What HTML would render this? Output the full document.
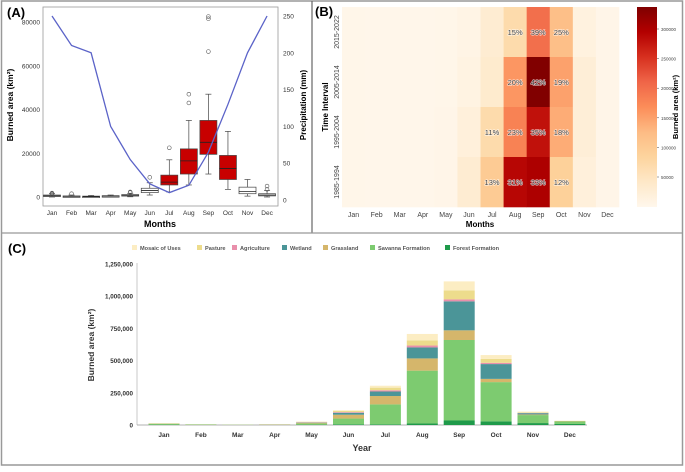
<!DOCTYPE html>
<html><head><meta charset="utf-8"><style>
body{margin:0;background:#fff;font-family:"Liberation Sans",sans-serif}
svg text{font-family:"Liberation Sans",sans-serif}
</style></head><body>
<svg id="s" width="685" height="467" viewBox="0 0 685 467">
<rect x="1.5" y="1" width="681" height="464" fill="none" stroke="#999" stroke-width="1.5"/>
<line x1="312" y1="1" x2="312" y2="233" stroke="#666" stroke-width="1.2"/>
<line x1="1.5" y1="233" x2="683" y2="233" stroke="#999" stroke-width="1.2"/>
<text x="7" y="17" font-size="13" font-weight="bold">(A)</text>
<text x="315" y="16" font-size="13" font-weight="bold">(B)</text>
<text x="8" y="253" font-size="13" font-weight="bold">(C)</text>
<g id="A"></g><g id="B"></g><g id="C"></g>
</svg>
<script>
const months=["Jan","Feb","Mar","Apr","May","Jun","Jul","Aug","Sep","Oct","Nov","Dec"];
// Panel A data
const precip=[250,210,200,100,55,22,10,20,65,130,200,250];
const q1=[200,100,100,200,500,2000,5500,10500,19500,8000,1500,500];
const med=[500,300,200,400,800,3000,6800,16500,25000,13000,2500,900];
const q3=[900,500,400,600,1100,4000,10000,22000,35000,19000,4500,1500];
const wlo=[0,0,0,0,100,900,2300,5500,10500,3500,400,0];
const whi=[1500,900,700,900,1700,6500,17000,35000,47000,30000,8000,3000];
const outliers=[[1200,1600,1800],[1500],[],[],[2000,2300],[9000],[22500],[43000,47000],[66500,81500,82500],[],[],[3500,5000]];
const redBox=[0,0,0,0,0,0,1,1,1,1,0,0];
const aLeftTicks=[0,20000,40000,60000,80000];
const aRightTicks=[0,50,100,150,200,250];
// Panel B data
const intervals=["2015-2022","2005-2014","1995-2004","1985-1994"];
const heat=[
[3000,2000,2000,2000,3000,8000,30000,70000,200000,120000,15000,5000],
[3000,2000,2000,2000,4000,12000,35000,160000,335000,150000,25000,5000],
[3000,2000,2000,2000,5000,20000,70000,180000,280000,140000,25000,5000],
[3000,2000,2000,2000,5000,30000,100000,290000,300000,90000,20000,5000]];
const pct=[
["","","","","","","","15%","39%","25%","",""],
["","","","","","","","20%","42%","19%","",""],
["","","","","","","11%","23%","35%","18%","",""],
["","","","","","","13%","31%","33%","12%","",""]];
const cbTicks=[50000,100000,150000,200000,250000,300000];
// Panel C data
const classes=["Forest Formation","Savanna Formation","Grassland","Wetland","Agriculture","Pasture","Mosaic of Uses"];
const forest=[2000,1000,500,500,2000,5000,5000,12000,35000,28000,15000,8000];
const savanna=[8000,3000,1500,2000,10000,45000,155000,410000,625000,305000,62000,20000];
const grassland=[2000,1000,500,1000,5000,30000,65000,95000,75000,25000,5000,3000];
const wetland=[0,0,0,0,2000,15000,35000,85000,225000,115000,10000,0];
const agriculture=[0,0,0,1000,3000,5000,10000,15000,15000,10000,2000,0];
const pasture=[1000,500,500,1000,3000,10000,20000,40000,70000,30000,5000,1000];
const mosaic=[1000,500,500,1000,2000,5000,15000,50000,70000,30000,5000,1000];
const cTicks=[0,250000,500000,750000,1000000,1250000];

const NS="http://www.w3.org/2000/svg";
function el(p,t,a){const e=document.createElementNS(NS,t);for(const k in a)e.setAttribute(k,a[k]);p.appendChild(e);return e;}
function tx(p,x,y,s,a){const e=el(p,"text",Object.assign({x:x,y:y},a));e.textContent=s;return e;}

// ---------- Panel A ----------
const A=document.getElementById("A");
const axL=43,axR=278,axT=7,axB=206;
const yA=v=>197-v*(175/80000);
const yP=v=>200-v*(184/250);
const xA=i=>52+i*19.55;
const fr=el(A,"rect",{x:axL,y:axT,width:axR-axL,height:axB-axT,fill:"none",stroke:"#999","stroke-width":0.8});


aLeftTicks.forEach(v=>{const t=tx(A,40,yA(v)+2.5,String(v),{"font-size":6.5,"text-anchor":"end",fill:"#333"});

});
aRightTicks.forEach(v=>{const t=tx(A,283,yP(v)+2.5,String(v),{"font-size":6.5,fill:"#333"});

});
months.forEach((m,i)=>{const t=tx(A,xA(i),215,m,{"font-size":6.5,"text-anchor":"middle",fill:"#333"});


const w=6,x=xA(i);
const g=el(A,"g",{});


el(g,"line",{x1:x,x2:x,y1:yA(whi[i]),y2:yA(q3[i]),stroke:"#444","stroke-width":0.7});
el(g,"line",{x1:x,x2:x,y1:yA(q1[i]),y2:yA(wlo[i]),stroke:"#444","stroke-width":0.7});
el(g,"line",{x1:x-w/2,x2:x+w/2,y1:yA(whi[i]),y2:yA(whi[i]),stroke:"#444","stroke-width":0.7});
el(g,"line",{x1:x-w/2,x2:x+w/2,y1:yA(wlo[i]),y2:yA(wlo[i]),stroke:"#444","stroke-width":0.7});
el(g,"rect",{x:x-8.5,y:yA(q3[i]),width:17,height:Math.max(1.5,yA(q1[i])-yA(q3[i])),fill:redBox[i]?"#c80000":"#fff",stroke:"#444","stroke-width":0.7});
el(g,"line",{x1:x-8.5,x2:x+8.5,y1:yA(med[i]),y2:yA(med[i]),stroke:"#222","stroke-width":0.8});
outliers[i].forEach(o=>el(g,"circle",{cx:x,cy:yA(o),r:1.9,fill:"none",stroke:"#555","stroke-width":0.6}));
});
const pl=el(A,"polyline",{points:precip.map((v,i)=>xA(i)+","+yP(v)).join(" "),fill:"none",stroke:"#5b63c8","stroke-width":1.3});


let t;
t=tx(A,160,227,"Months",{"font-size":9,"font-weight":"bold","text-anchor":"middle"});

t=tx(A,13,105,"Burned area (km²)",{"font-size":8.5,"font-weight":"bold","text-anchor":"middle",transform:"rotate(-90 13 105)"});

t=tx(A,306,105,"Precipitation (mm)",{"font-size":8,"font-weight":"bold","text-anchor":"middle",transform:"rotate(-90 306 105)"});


// ---------- Panel B ----------
const B=document.getElementById("B");
const stops=["#fff7ec","#fee8c8","#fdd49e","#fdbb84","#fc8d59","#ef6548","#d7301f","#b30000","#7f0000"];
function hx(h){return [1,3,5].map(k=>parseInt(h.substr(k,2),16));}
const VMAX=337000;
function cmap(v){let f=Math.max(0,Math.min(1,v/VMAX))*(stops.length-1);const i=Math.min(stops.length-2,Math.floor(f));const r=f-i;const a=hx(stops[i]),b=hx(stops[i+1]);return "rgb("+a.map((c,k)=>Math.round(c+(b[k]-c)*r)).join(",")+")";}
const bx0=342,bx1=619,by0=7,by1=207;
const cw=(bx1-bx0)/12,ch=(by1-by0)/4;
heat.forEach((row,r)=>row.forEach((v,c)=>{
const cell=el(B,"rect",{x:bx0+c*cw,y:by0+r*ch,width:cw+0.3,height:ch+0.3,fill:cmap(v)});


if(pct[r][c]){const l=tx(B,bx0+(c+0.5)*cw,by0+(r+0.5)*ch+3,pct[r][c],{"font-size":7.5,"text-anchor":"middle",fill:"#444",stroke:"#fff","stroke-width":1.2,"stroke-opacity":0.7,"paint-order":"stroke"});

}
}));
intervals.forEach((s,r)=>{const y=by0+(r+0.5)*ch;const l=tx(B,339,y,s,{"font-size":7,"text-anchor":"middle",fill:"#444",transform:"rotate(-90 339 "+y+")"});

});
months.forEach((m,i)=>{const l=tx(B,bx0+(i+0.5)*cw,217,m,{"font-size":7,"text-anchor":"middle",fill:"#444"});

});
t=tx(B,480,227,"Months",{"font-size":8,"font-weight":"bold","text-anchor":"middle"});

t=tx(B,328,107,"Time Interval",{"font-size":8,"font-weight":"bold","text-anchor":"middle",transform:"rotate(-90 328 107)"});

const defs=el(B,"defs",{});const lg=el(defs,"linearGradient",{id:"cb",x1:0,y1:1,x2:0,y2:0});
stops.forEach((s,i)=>el(lg,"stop",{offset:(i/(stops.length-1)),"stop-color":s}));
const cbx=637,cbw=20;
const yCB=v=>206.6-v*(148/250000);
const cb=el(B,"rect",{x:cbx,y:by0,width:cbw,height:by1-by0,fill:"url(#cb)"});


cbTicks.forEach(v=>{el(B,"line",{x1:cbx+cbw,x2:cbx+cbw+2,y1:yCB(v),y2:yCB(v),stroke:"#444","stroke-width":0.5});
const l=tx(B,cbx+cbw+4,yCB(v)+2,String(v),{"font-size":4.5,fill:"#444"});

});
t=tx(B,678,107,"Burned area (km²)",{"font-size":7.5,"font-weight":"bold","text-anchor":"middle",transform:"rotate(-90 678 107)"});


// ---------- Panel C ----------
const C=document.getElementById("C");
const cx0=137,cx1=587,base=425;
const yC=v=>base-v*(161/1250000);
const xC=i=>164+i*36.9;
const colors=["#1f9a4a","#7dcb70","#d5b66b","#4b9598","#e98fab","#eddc8c","#fcedc3"];
const series=[forest,savanna,grassland,wetland,agriculture,pasture,mosaic];
el(C,"line",{x1:cx0,x2:cx0,y1:263,y2:base,stroke:"#bbb","stroke-width":0.8});
el(C,"line",{x1:cx0,x2:cx1,y1:base,y2:base,stroke:"#999","stroke-width":0.8});
cTicks.forEach(v=>{const l=tx(C,133,yC(v)+2.5,v.toLocaleString("en-US"),{"font-size":6.3,"font-weight":"bold","text-anchor":"end",fill:"#333"});

});
months.forEach((m,i)=>{let acc=0;
series.forEach((s,k)=>{const v=s[i];if(v<=0)return;
const r=el(C,"rect",{x:xC(i)-15.5,y:yC(acc+v),width:31,height:yC(acc)-yC(acc+v),fill:colors[k]});


acc+=v;});
const l=tx(C,xC(i),437,m,{"font-size":6.5,"font-weight":"bold","text-anchor":"middle",fill:"#333"});

});
t=tx(C,362,451,"Year",{"font-size":9,"font-weight":"bold","text-anchor":"middle",fill:"#333"});

t=tx(C,94,345,"Burned area (km²)",{"font-size":8.5,"font-weight":"bold","text-anchor":"middle",fill:"#333",transform:"rotate(-90 94 345)"});

const legOrder=[6,5,4,3,2,1,0];const legX=[132,197,232,282,323,370,445];
legOrder.forEach((k,j)=>{const g=el(C,"g",{});


el(g,"rect",{x:legX[j],y:245,width:5,height:5,fill:colors[k]});
tx(g,legX[j]+8,250,classes[k],{"font-size":5.6,"font-weight":"bold",fill:"#555"});});
</script>
</body></html>
